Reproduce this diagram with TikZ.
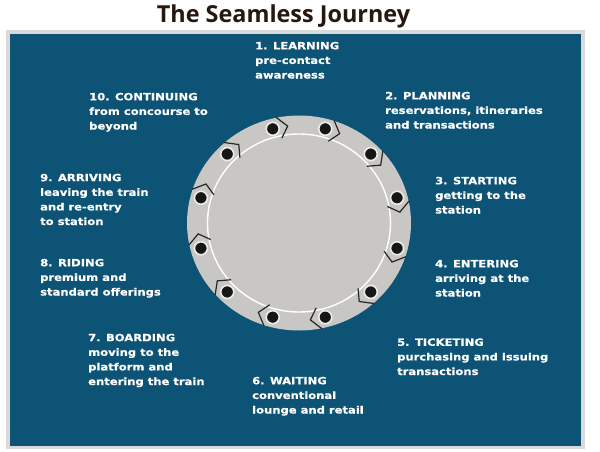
\documentclass[tikz,border=0pt]{standalone}
\usepackage{fontspec}
\setmainfont{Open Sans}
\newfontfamily\lblfont[FakeStretch=1.155, BoldFeatures={FakeBold=0.6}]{DejaVu Sans}
\usetikzlibrary{calc}
\definecolor{panel}{RGB}{12,83,118}
\definecolor{framegray}{RGB}{218,218,216}
\definecolor{ringgray}{RGB}{201,199,196}
\definecolor{titlecol}{RGB}{38,24,16}
\definecolor{dotcol}{RGB}{22,22,22}
\definecolor{halo}{RGB}{236,236,234}
\tikzset{
  lbl/.style={anchor=base west, align=left, inner sep=0pt, text=white,
    font=\lblfont\bfseries\fontsize{10}{14.6}\selectfont},
  dotnode/.style={circle, fill=dotcol, draw=halo, line width=1.6pt, minimum size=13pt, inner sep=0pt},
  chev/.style={draw=black!85, line width=1.2pt, line join=miter},
}
\begin{document}
\begin{tikzpicture}[x=1pt,y=-1pt]
\useasboundingbox (0,0) rectangle (600,451);
\fill[white] (0,0) rectangle (600,451);
% frame and panel
\fill[framegray] (6,30) rectangle (585,449);
\fill[panel] (10,34) rectangle (581,446);
% title
\node[font=\bfseries\fontsize{23.4}{26}\selectfont, text=titlecol, anchor=base] (title) at (283.5,22.5) {The Seamless Journey};
% ring
\coordinate (ctr) at (299,223);
\fill[ringgray] (ctr) ellipse [x radius=112, y radius=107.5];
\draw[white, line width=1.4pt] (ctr) ellipse [x radius=91.5, y radius=89];
% dots and chevrons
\foreach \k in {0,...,11} {
  \pgfmathsetmacro{\ang}{-105+30*\k}
  \node[dotnode] (d\k) at ($(ctr)+(\ang:101.5 and 97.5)$) {};
  \draw[chev] ($(ctr)+(\ang+3.2:112.5 and 108)$) -- ($(ctr)+(\ang+8.6:101.5 and 97.5)$) -- ($(ctr)+(\ang+4.0:90 and 86.5)$);
}
% labels (anchored at the baseline of the last line)
\node[lbl] (l1) at (255,78.5) {1. LEARNING\\pre-contact\\awareness};
\node[lbl] (l2) at (385,128.5) {2. PLANNING\\reservations, itineraries\\and transactions};
\node[lbl] (l3) at (435,213.5) {3. STARTING\\getting to the\\station};
\node[lbl] (l4) at (435,296.5) {4. ENTERING\\arriving at the\\station};
\node[lbl] (l5) at (397,375) {5. TICKETING\\purchasing and issuing\\transactions};
\node[lbl] (l6) at (252,413.5) {6. WAITING\\conventional\\lounge and retail};
\node[lbl] (l7) at (88,385) {7. BOARDING\\moving to the\\platform and\\entering the train};
\node[lbl] (l8) at (40,295.5) {8. RIDING\\premium and\\standard offerings};
\node[lbl] (l9) at (40,225) {9. ARRIVING\\leaving the train\\and re-entry\\to station};
\node[lbl] (l10) at (89,129.5) {10. CONTINUING\\from concourse to\\beyond};
\end{tikzpicture}
\end{document}
